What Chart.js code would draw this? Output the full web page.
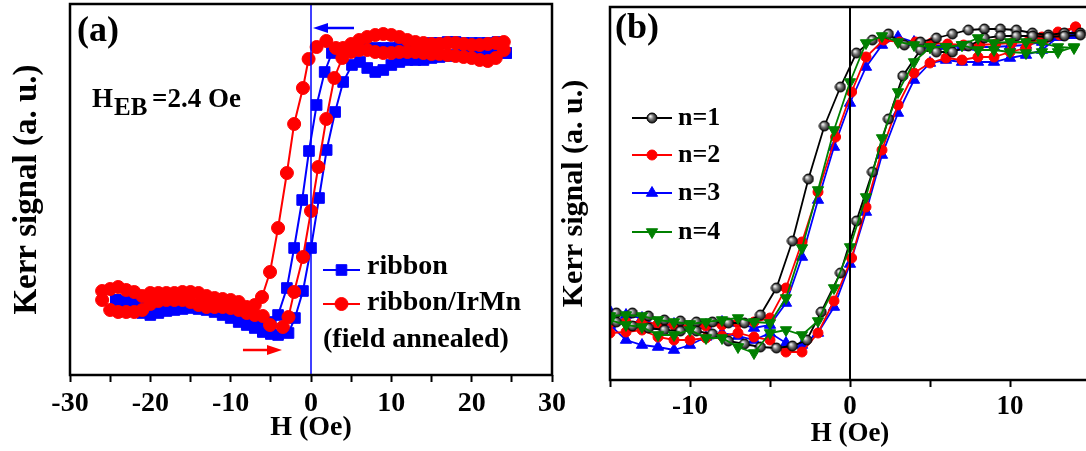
<!DOCTYPE html>
<html>
<head>
<meta charset="utf-8">
<script src="https://cdn.jsdelivr.net/npm/chart.js@4.4.1/dist/chart.umd.min.js"></script>
<style>
  body { margin: 0; background: #fff; }
  #wrap { position: relative; width: 1086px; height: 451px; overflow: hidden; }
  #chartA { position: absolute; left: 0; top: 0; }
  #chartB { position: absolute; left: 540px; top: 0; }
</style>
</head>
<body>
<div id="wrap">
  <canvas id="chartA" width="575" height="451"></canvas>
  <canvas id="chartB" width="556" height="451"></canvas>
</div>
<script>
const SERIF = "'Liberation Serif', 'Times New Roman', Times, serif";

// (a) field H in Oe, Kerr signal in a.u. ; each loop = down branch then up branch
const ribbonDownH = [24.3, 23.2, 22, 21, 20, 19, 18, 17, 16, 15, 14, 13, 12, 11, 10, 9, 8, 7, 6, 5, 4, 3.6, 2.6, 1.7, 0.7, -0.25, -1.1, -2.1, -3.0, -4.1, -5, -6, -7, -8, -9, -10, -11, -12, -13, -14, -15, -16, -17, -18, -19, -20, -21, -22, -23, -24.3];
const ribbonDownK = [1.22, 1.33, 1.32, 1.32, 1.32, 1.32, 1.33, 1.33, 1.32, 1.32, 1.31, 1.30, 1.29, 1.28, 1.27, 1.27, 1.27, 1.27, 1.27, 1.26, 1.25, 1.25, 1.22, 1.03, 0.70, 0.24, -0.25, -0.73, -1.13, -1.40, -1.47, -1.51, -1.50, -1.45, -1.41, -1.37, -1.35, -1.33, -1.31, -1.30, -1.30, -1.30, -1.31, -1.32, -1.32, -1.31, -1.29, -1.27, -1.26, -1.25];
const ribbonUpH = [-24.3, -23, -22, -21, -20, -19, -18, -17, -16, -15, -14, -13, -12, -11, -10, -9, -8, -7, -6, -5, -4.1, -2.8, -2.0, -1.0, 0, 1.0, 1.95, 3.0, 4.0, 5.1, 6.1, 7, 8, 9, 10, 11, 12, 13, 14, 15, 16, 17, 18, 19, 20, 21, 22, 23, 24.3];
const ribbonUpK = [-1.25, -1.32, -1.35, -1.38, -1.40, -1.38, -1.36, -1.35, -1.34, -1.33, -1.34, -1.35, -1.37, -1.40, -1.43, -1.47, -1.50, -1.53, -1.57, -1.59, -1.60, -1.58, -1.43, -1.16, -0.73, -0.23, 0.25, 0.63, 0.93, 1.10, 1.13, 1.07, 1.03, 1.05, 1.10, 1.13, 1.15, 1.15, 1.15, 1.17, 1.18, 1.19, 1.20, 1.20, 1.20, 1.21, 1.21, 1.21, 1.22];

const irmnDownH = [24, 23, 22, 21, 20, 19, 18, 17, 16, 15, 14, 13, 12, 11, 10, 9, 8, 7, 6, 5, 4, 3.1, 1.9, 0.7, -0.3, -1.0, -2.1, -3.0, -4.1, -5.1, -6.1, -7, -8, -9, -10, -11, -12, -13, -14, -15, -16, -17, -18, -19, -20, -21, -22, -23, -24, -25, -26];
const irmnDownK = [1.33, 1.32, 1.31, 1.30, 1.30, 1.31, 1.32, 1.32, 1.31, 1.31, 1.32, 1.33, 1.35, 1.38, 1.40, 1.41, 1.40, 1.38, 1.35, 1.31, 1.27, 1.27, 1.34, 1.28, 1.16, 0.87, 0.51, 0.02, -0.53, -0.97, -1.22, -1.30, -1.32, -1.27, -1.25, -1.24, -1.23, -1.21, -1.18, -1.17, -1.17, -1.18, -1.18, -1.18, -1.18, -1.21, -1.17, -1.15, -1.12, -1.14, -1.16];
const irmnUpH = [-26, -25, -24, -23, -22, -21, -20, -19, -18, -17, -16, -15, -14, -13, -12, -11, -10, -9, -8, -7, -6, -5.1, -3.5, -2.8, -2.1, -1.0, 0, 0.9, 1.9, 2.9, 3.9, 5, 6, 7, 8, 9, 10, 11, 12, 13, 14, 15, 16, 17, 18, 19, 20, 21, 22, 23, 24];
const irmnUpK = [-1.25, -1.35, -1.37, -1.37, -1.37, -1.35, -1.29, -1.26, -1.25, -1.25, -1.25, -1.27, -1.30, -1.32, -1.32, -1.32, -1.33, -1.35, -1.38, -1.40, -1.41, -1.50, -1.52, -1.42, -1.17, -0.82, -0.36, 0.08, 0.56, 0.97, 1.17, 1.23, 1.25, 1.25, 1.23, 1.22, 1.22, 1.23, 1.23, 1.23, 1.22, 1.21, 1.21, 1.20, 1.19, 1.18, 1.17, 1.15, 1.14, 1.17, 1.25];

// (b) n = 1..4
const n1DownH = [14.4, 13.4, 12.4, 11.4, 10.4, 9.4, 8.4, 7.4, 6.4, 5.4, 4.4, 3.4, 2.4, 1.4, 0.4, -0.6, -1.6, -2.6, -3.6, -4.6, -5.6, -6.6, -7.6, -8.6, -9.6, -10.6, -11.6, -12.6, -13.6, -14.6, -15.6];
const n1DownK = [1.52, 1.52, 1.50, 1.52, 1.55, 1.56, 1.56, 1.55, 1.51, 1.47, 1.43, 1.40, 1.51, 1.45, 1.32, 0.98, 0.59, 0.06, -0.56, -1.03, -1.30, -1.38, -1.38, -1.37, -1.37, -1.36, -1.35, -1.31, -1.28, -1.28, -1.27];
const n1UpH = [-15.6, -14.6, -13.6, -12.6, -11.6, -10.6, -9.6, -8.6, -7.6, -6.6, -5.6, -4.6, -3.6, -2.7, -1.8, -0.6, 0.4, 1.4, 2.4, 3.3, 4.4, 5.4, 6.4, 7.4, 8.4, 9.4, 10.4, 11.4, 12.4, 13.4, 14.4];
const n1UpK = [-1.33, -1.37, -1.41, -1.43, -1.45, -1.46, -1.46, -1.49, -1.56, -1.59, -1.62, -1.63, -1.61, -1.55, -1.27, -0.88, -0.36, 0.13, 0.66, 1.09, 1.35, 1.33, 1.33, 1.39, 1.47, 1.49, 1.49, 1.49, 1.48, 1.49, 1.50];

const n2DownH = [14.1, 13.1, 12.1, 11.1, 10.1, 9.1, 8.1, 7.1, 6.1, 5.1, 4.1, 3.1, 2.1, 1.0, 0.1, -0.9, -2.0, -3.0, -4.0, -5.0, -6, -7, -8, -9, -10, -11, -12, -13, -14, -15, -16];
const n2DownK = [1.58, 1.50, 1.45, 1.43, 1.42, 1.41, 1.40, 1.40, 1.41, 1.42, 1.43, 1.43, 1.45, 1.28, 0.93, 0.48, -0.07, -0.57, -1.03, -1.33, -1.37, -1.38, -1.40, -1.41, -1.41, -1.40, -1.39, -1.37, -1.37, -1.38, -1.38];
const n2UpH = [-16, -15, -14, -13, -12, -11, -10, -9, -8, -7, -6, -5, -4, -3, -2, -1, 0.1, 1.0, 2.0, 3.0, 4.0, 5.0, 6, 7, 8, 9, 10, 11, 12, 13, 14.1];
const n2UpK = [-1.45, -1.48, -1.47, -1.45, -1.52, -1.55, -1.55, -1.53, -1.51, -1.48, -1.52, -1.55, -1.67, -1.67, -1.48, -1.16, -0.73, -0.22, 0.35, 0.80, 1.12, 1.22, 1.27, 1.25, 1.28, 1.28, 1.33, 1.37, 1.48, 1.53, 1.58];

const n3DownH = [14, 13, 12, 11, 10, 9, 8, 7, 6, 5, 4, 3, 2, 1, 0, -1, -2, -3, -4, -5, -6, -7, -8, -9, -10, -11, -12, -13, -14, -15, -16];
const n3DownK = [1.50, 1.48, 1.43, 1.40, 1.39, 1.38, 1.38, 1.38, 1.39, 1.40, 1.43, 1.48, 1.40, 1.18, 0.82, 0.38, -0.15, -0.72, -1.18, -1.40, -1.43, -1.38, -1.37, -1.40, -1.42, -1.39, -1.41, -1.33, -1.30, -1.26, -1.25];
const n3UpH = [-16, -15, -14, -13, -12, -11, -10, -9, -8, -7, -6, -5, -4, -3, -2, -1, 0, 1, 2, 3, 4, 5, 6, 7, 8, 9, 10, 11, 12, 13, 14];
const n3UpK = [-1.33, -1.40, -1.55, -1.60, -1.62, -1.65, -1.60, -1.52, -1.48, -1.51, -1.55, -1.48, -1.58, -1.60, -1.48, -1.22, -0.79, -0.27, 0.30, 0.72, 1.05, 1.22, 1.25, 1.23, 1.23, 1.23, 1.27, 1.30, 1.35, 1.48, 1.50];

const n4DownH = [14, 13, 12, 11, 10, 9, 8, 7, 6, 5, 4, 3, 2, 1, 0, -1, -2, -3, -4, -5, -6, -7, -8, -9, -10, -11, -12, -13, -14, -15, -16];
const n4DownK = [1.37, 1.38, 1.42, 1.43, 1.43, 1.42, 1.47, 1.40, 1.38, 1.38, 1.40, 1.43, 1.49, 1.42, 1.03, 0.55, -0.05, -0.63, -1.13, -1.38, -1.37, -1.33, -1.35, -1.37, -1.39, -1.37, -1.35, -1.31, -1.30, -1.31, -1.31];
const n4UpH = [-16, -15, -14, -13, -12, -11, -10, -9, -8, -7, -6, -5, -4, -3, -2, -1, 0, 1, 2, 3, 4, 5, 6, 7, 8, 9, 10, 11, 12, 13, 14];
const n4UpK = [-1.37, -1.35, -1.40, -1.42, -1.50, -1.50, -1.45, -1.53, -1.53, -1.62, -1.68, -1.48, -1.45, -1.50, -1.36, -1.03, -0.62, -0.12, 0.47, 0.93, 1.23, 1.38, 1.38, 1.40, 1.35, 1.35, 1.33, 1.32, 1.33, 1.33, 1.38];

function loop(dH, dK, uH, uK) {
  const pts = dH.map((h, i) => ({ x: h, y: dK[i] }));
  uH.forEach((h, i) => pts.push({ x: h, y: uK[i] }));
  return pts;
}

// shaded grey ball marker for n=1
function ball(r) {
  const c = document.createElement('canvas');
  c.width = c.height = 2 * r + 2;
  const g = c.getContext('2d');
  const m = r + 1;
  const grad = g.createRadialGradient(m - r * 0.35, m - r * 0.35, 0.5, m, m, r);
  grad.addColorStop(0, '#f0f0f0');
  grad.addColorStop(0.45, '#777');
  grad.addColorStop(1, '#111');
  g.fillStyle = grad;
  g.beginPath(); g.arc(m, m, r, 0, Math.PI * 2); g.fill();
  g.lineWidth = 1; g.strokeStyle = '#000'; g.stroke();
  return c;
}

function drawMark(ctx, ds, x, y) {
  const r = ds.pointRadius, st = ds.pointStyle;
  ctx.save();
  if (typeof st !== 'string') {
    ctx.drawImage(st, x - st.width / 2, y - st.height / 2);
    ctx.restore();
    return;
  }
  ctx.fillStyle = ds.pointBackgroundColor;
  ctx.strokeStyle = ds.borderColor;
  ctx.lineWidth = 1;
  ctx.beginPath();
  if (st === 'rect') {
    const s = r * Math.SQRT1_2;
    ctx.rect(x - s, y - s, 2 * s, 2 * s);
  } else if (st === 'triangle') {
    let a = (ds.pointRotation || 0) * Math.PI / 180;
    ctx.moveTo(x + Math.sin(a) * r, y - Math.cos(a) * r);
    a += 2 * Math.PI / 3;
    ctx.lineTo(x + Math.sin(a) * r, y - Math.cos(a) * r);
    a += 2 * Math.PI / 3;
    ctx.lineTo(x + Math.sin(a) * r, y - Math.cos(a) * r);
    ctx.closePath();
  } else {
    ctx.arc(x, y, r, 0, Math.PI * 2);
  }
  ctx.fill(); ctx.stroke();
  ctx.restore();
}

function legend(chart, items, x1, x2, tx) {
  const ctx = chart.ctx;
  items.forEach(it => {
    const ds = chart.data.datasets[it.ds];
    ctx.save();
    ctx.strokeStyle = ds.borderColor; ctx.lineWidth = ds.borderWidth;
    ctx.beginPath(); ctx.moveTo(x1, it.y); ctx.lineTo(x2, it.y); ctx.stroke();
    ctx.restore();
    drawMark(ctx, ds, (x1 + x2) / 2, it.y);
    ctx.save();
    ctx.fillStyle = '#000'; ctx.font = it.font; ctx.textBaseline = 'alphabetic';
    ctx.fillText(it.text, tx, it.base);
    ctx.restore();
  });
}

function arrow(chart, h1, h2, k, color) {
  const { ctx, scales: { x, y } } = chart;
  const x1 = x.getPixelForValue(h1), x2 = x.getPixelForValue(h2), yy = y.getPixelForValue(k);
  const d = Math.sign(x2 - x1);
  ctx.save();
  ctx.strokeStyle = color; ctx.fillStyle = color; ctx.lineWidth = 2.5;
  ctx.beginPath(); ctx.moveTo(x1, yy); ctx.lineTo(x2 - d * 10, yy); ctx.stroke();
  ctx.beginPath(); ctx.moveTo(x2, yy); ctx.lineTo(x2 - d * 15, yy - 5); ctx.lineTo(x2 - d * 15, yy + 5); ctx.closePath(); ctx.fill();
  ctx.restore();
}

function text(ctx, s, x, y, size) {
  ctx.save();
  ctx.fillStyle = '#000';
  ctx.font = 'bold ' + size + 'px ' + SERIF;
  ctx.textBaseline = 'alphabetic';
  ctx.fillText(s, x, y);
  ctx.restore();
}

function frame(zeroColor, zeroWidth, extra) {
  return {
    id: 'frame',
    afterDatasetsDraw(chart) {
      const { ctx, chartArea: a, scales: { x } } = chart;
      const x0 = x.getPixelForValue(0);
      ctx.save();
      ctx.strokeStyle = zeroColor; ctx.lineWidth = zeroWidth;
      ctx.beginPath(); ctx.moveTo(x0, a.top); ctx.lineTo(x0, a.bottom); ctx.stroke();
      ctx.strokeStyle = '#000'; ctx.lineWidth = 2.5;
      ctx.strokeRect(a.left, a.top, a.right - a.left, a.bottom - a.top);
      ctx.restore();
      extra(chart);
    }
  };
}

function axes(xmin, xmax, ymin, ymax, tickSize, tickPad, xTitleSize, xTitlePad, yTitleSize, yTitlePad, xHeight) {
  return {
    x: {
      type: 'linear', min: xmin, max: xmax,
      ticks: {
        stepSize: 5, autoSkip: false, maxRotation: 0, padding: tickPad, color: '#000',
        font: { family: SERIF, size: tickSize, weight: 'bold' },
        callback: v => (v % 10 === 0 ? v : '')
      },
      grid: { drawOnChartArea: false, drawTicks: true, tickLength: 7, tickWidth: 2, tickColor: '#000' },
      border: { display: false },
      title: {
        display: true, text: 'H (Oe)', color: '#000',
        font: { family: SERIF, size: xTitleSize, weight: 'bold' },
        padding: { top: 0, bottom: xTitlePad }
      },
      afterFit: s => { s.height = xHeight; }
    },
    y: {
      type: 'linear', min: ymin, max: ymax,
      ticks: { display: false },
      grid: { display: false },
      border: { display: false },
      title: {
        display: true, text: 'Kerr signal (a. u.)', color: '#000',
        font: { family: SERIF, size: yTitleSize, weight: 'bold' },
        padding: { top: yTitlePad, bottom: 0 }
      },
      afterFit: s => { s.width = 70; }
    }
  };
}

const common = {
  responsive: false, animation: false, events: [],
  plugins: { legend: { display: false }, tooltip: { enabled: false } }
};

new Chart(document.getElementById('chartA'), {
  type: 'scatter',
  data: {
    datasets: [
      {
        label: 'ribbon/IrMn', data: loop(irmnDownH, irmnDownK, irmnUpH, irmnUpK),
        showLine: true, borderColor: '#ff0000', borderWidth: 2,
        pointStyle: 'circle', pointRadius: 6.5, pointBackgroundColor: '#ff0000', pointBorderColor: '#ff0000', pointBorderWidth: 1
      },
      {
        label: 'ribbon', data: loop(ribbonDownH, ribbonDownK, ribbonUpH, ribbonUpK),
        showLine: true, borderColor: '#0000ff', borderWidth: 2,
        pointStyle: 'rect', pointRadius: 7.5, pointBackgroundColor: '#0000ff', pointBorderColor: '#0000ff', pointBorderWidth: 1
      }
    ]
  },
  options: Object.assign({}, common, {
    layout: { autoPadding: false, padding: { left: 0, top: 4, right: 23, bottom: 0 } },
    scales: axes(-30, 30, -2.0, 1.71, 28, 5, 28, 6, 33, 8, 76)
  }),
  plugins: [frame('#0000ff', 1.5, chart => {
    const ctx = chart.ctx;
    arrow(chart, 5.35, 0.25, 1.47, '#0000ff');
    arrow(chart, -8.47, -3.61, -1.75, '#ff0000');
    text(ctx, '(a)', 77, 41, 36);
    text(ctx, 'H', 92, 107, 27);
    text(ctx, 'EB', 114, 115, 25);
    text(ctx, '=2.4 Oe', 152, 107, 27);
    const f = 'bold 28px ' + SERIF;
    legend(chart, [
      { ds: 1, y: 270, base: 274, text: 'ribbon', font: f },
      { ds: 0, y: 304, base: 310, text: 'ribbon/IrMn', font: f }
    ], 323, 360, 367);
    text(ctx, '(field annealed)', 323, 347, 28);
  })]
});

new Chart(document.getElementById('chartB'), {
  type: 'scatter',
  data: {
    datasets: [
      {
        label: 'n=4', data: loop(n4DownH, n4DownK, n4UpH, n4UpK),
        showLine: true, borderColor: '#008000', borderWidth: 1.8,
        pointStyle: 'triangle', pointRotation: 180, pointRadius: 6.5, pointBackgroundColor: '#008000', pointBorderColor: '#008000', pointBorderWidth: 1
      },
      {
        label: 'n=1', data: loop(n1DownH, n1DownK, n1UpH, n1UpK),
        showLine: true, borderColor: '#000000', borderWidth: 1.8,
        pointStyle: ball(5), pointRadius: 5
      },
      {
        label: 'n=2', data: loop(n2DownH, n2DownK, n2UpH, n2UpK),
        showLine: true, borderColor: '#ff0000', borderWidth: 1.8,
        pointStyle: 'circle', pointRadius: 5, pointBackgroundColor: '#ff0000', pointBorderColor: '#ff0000', pointBorderWidth: 1
      },
      {
        label: 'n=3', data: loop(n3DownH, n3DownK, n3UpH, n3UpK),
        showLine: true, borderColor: '#0000ff', borderWidth: 1.8,
        pointStyle: 'triangle', pointRadius: 6.5, pointBackgroundColor: '#0000ff', pointBorderColor: '#0000ff', pointBorderWidth: 1
      }
    ]
  },
  options: Object.assign({}, common, {
    layout: { autoPadding: false, padding: { left: 0, top: 7, right: 6, bottom: 0 } },
    scales: axes(-15, 15, -1.95, 1.78, 27, 4, 27, 1, 30, 16, 71)
  }),
  plugins: [frame('#000000', 2, chart => {
    const ctx = chart.ctx;
    text(ctx, '(b)', 75, 38, 36);
    const f = 'bold 26px ' + SERIF;
    legend(chart, [
      { ds: 1, y: 118, base: 125, text: 'n=1', font: f },
      { ds: 2, y: 155, base: 162, text: 'n=2', font: f },
      { ds: 3, y: 193, base: 200, text: 'n=3', font: f },
      { ds: 0, y: 232, base: 239, text: 'n=4', font: f }
    ], 92, 132, 138);
  })]
});
</script>
</body>
</html>
